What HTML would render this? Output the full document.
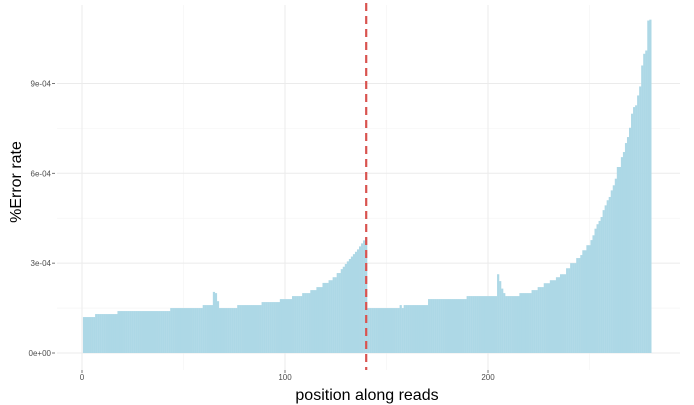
<!DOCTYPE html>
<html><head><meta charset="utf-8"><style>
html,body{margin:0;padding:0;background:#fff;}
svg{display:block;font-family:"Liberation Sans",sans-serif;}
</style></head><body>
<svg id="chart" width="694" height="405">
<g id="grid"></g>
<g id="bars"></g>
<g id="axes"></g>
<text x="367" y="400" text-anchor="middle" font-size="16" fill="#000">position along reads</text>
<text transform="translate(21,182) rotate(-90)" text-anchor="middle" font-size="16" fill="#000">%Error rate</text>
</svg>
<script>
// values in units of 1e-6, positions 1..280
const errorValues = [
120,120,120,120,120,120,
130,130,130,130,130,130,130,130,130,130,130,
140,140,140,140,140,140,140,140,140,140,140,140,140,140,140,140,140,140,140,140,140,140,140,140,140,140,
150,150,150,150,150,150,150,150,150,150,150,150,150,150,150,150,
160,160,160,160,160,204,200,173,
150,150,150,150,150,150,150,150,150,
160,160,160,160,160,160,160,160,160,160,160,160,
170,170,170,170,170,170,170,170,170,
180,180,180,180,180,180,
190,190,190,190,190,
200,200,200,200,
210,210,210,
220,220,220,
234,234,234,
243,243,
253,253,
267,267,
280,288,297,306,314,322,330,338,346,356,366,376,385,
150,150,150,150,150,150,150,150,150,150,150,150,150,150,150,150,
160,150,160,160,160,160,160,160,160,160,160,160,160,160,
180,180,180,180,180,180,180,180,180,180,180,180,180,180,180,180,180,180,180,
190,190,190,190,190,190,190,190,190,190,190,190,190,190,190,
263,240,215,200,
190,190,190,190,190,190,190,
200,200,200,200,200,200,
210,210,210,
220,220,220,
233,233,233,
243,243,243,
253,253,
263,263,263,
283,283,
300,300,300,
317,317,
327,
343,343,
360,360,
377,393,415,430,
441,454,477,493,510,521,543,560,582,621,621,654,671,701,721,752,799,821,827,860,890,960,999,1010,1110,1113
];
const xTicks = [0,100,200];
const xMinor = [50,150,250];
const yTicks = [0,300,600,900];
const yTickLabels = ["0e+00","3e-04","6e-04","9e-04"];
const yMinor = [150,450,750];
const cutoff = [140];

const NS="http://www.w3.org/2000/svg";
const P={l:57,r:680,t:5,b:370};
function xs(v){return 82+2.03*v;}
function ys(v){return 353-0.2995*v;}
function mk(tag,attrs,parent){const e=document.createElementNS(NS,tag);for(const k in attrs)e.setAttribute(k,attrs[k]);parent.appendChild(e);return e;}
const grid=document.getElementById('grid'),bars=document.getElementById('bars'),axes=document.getElementById('axes');
xMinor.forEach(v=>{const l=mk('line',{x1:xs(v),x2:xs(v),y1:P.t,y2:P.b,stroke:'#f3f3f3','stroke-width':0.6},grid);

});
yMinor.forEach(v=>{const l=mk('line',{x1:P.l,x2:P.r,y1:ys(v),y2:ys(v),stroke:'#f3f3f3','stroke-width':0.6},grid);

});
xTicks.forEach(v=>{const l=mk('line',{x1:xs(v),x2:xs(v),y1:P.t,y2:P.b,stroke:'#ebebeb','stroke-width':1},grid);


const t=mk('line',{x1:xs(v),x2:xs(v),y1:P.b,y2:P.b+3,stroke:'#555','stroke-width':0.8},axes);


const tx=mk('text',{x:xs(v),y:P.b+10,'text-anchor':'middle','font-size':8,fill:'#4d4d4d'},axes);tx.textContent=v;

});
yTicks.forEach((v,i)=>{const l=mk('line',{x1:P.l,x2:P.r,y1:ys(v),y2:ys(v),stroke:'#ebebeb','stroke-width':1},grid);


const t=mk('line',{x1:52,x2:55,y1:ys(v),y2:ys(v),stroke:'#555','stroke-width':0.8},axes);


const tx=mk('text',{x:51,y:ys(v)+3,'text-anchor':'end','font-size':8,fill:'#4d4d4d'},axes);tx.textContent=yTickLabels[i];

});
errorValues.forEach((v,i)=>{const p=i+1;const r=mk('rect',{x:xs(p)-1.1,y:ys(v),width:2.2,height:ys(0)-ys(v),fill:'#add8e6'},bars);

});
cutoff.forEach(v=>{const l=mk('line',{x1:xs(v),x2:xs(v),y1:P.t-2,y2:P.b,stroke:'#d9534f','stroke-width':2.2,'stroke-dasharray':'8,5'},axes);

});
</script>
</body></html>
